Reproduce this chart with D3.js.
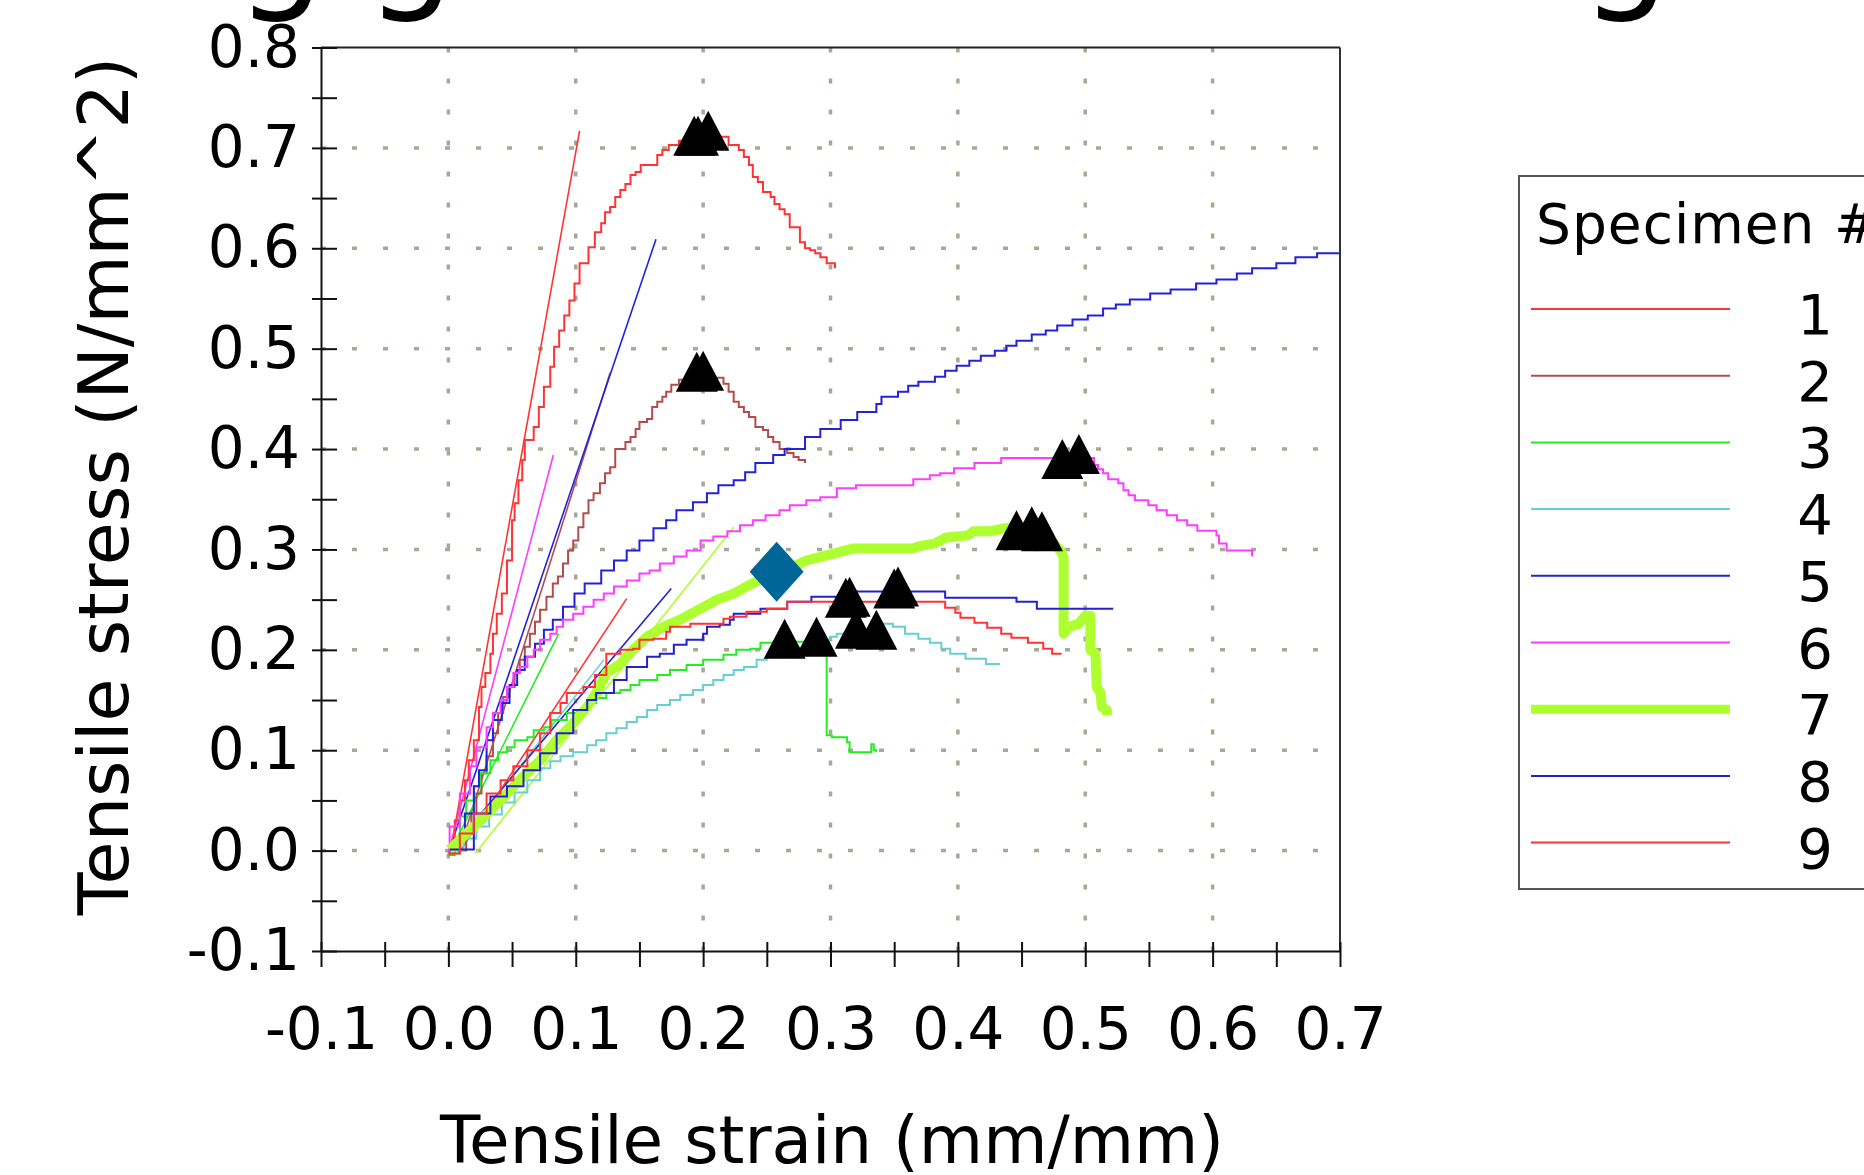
<!DOCTYPE html>
<html>
<head>
<meta charset="utf-8">
<script src="https://d3js.org/d3.v7.min.js"></script>
<style>
    body { margin: 0; padding: 0; background: #ffffff; }
    svg { display: block; font-family: 'DejaVu Sans', Verdana, sans-serif; }
</style>
</head>
<body>
<svg id="chart" width="1864" height="1175"></svg>
<script>
    // axis ticks (every 0.05, labels on every 0.1)
    const xTicks = [-0.1,-0.05,0,0.05,0.1,0.15,0.2,0.25,0.3,0.35,0.4,0.45,0.5,0.55,0.6,0.65,0.7];
    const xLabels = ["-0.1","0.0","0.1","0.2","0.3","0.4","0.5","0.6","0.7"];
    const yTicks = [-0.1,-0.05,0,0.05,0.1,0.15,0.2,0.25,0.3,0.35,0.4,0.45,0.5,0.55,0.6,0.65,0.7,0.75,0.8];
    const yLabels = ["-0.1","0.0","0.1","0.2","0.3","0.4","0.5","0.6","0.7","0.8"];
    const gridX = [0,0.1,0.2,0.3,0.4,0.5,0.6];
    const gridY = [0,0.1,0.2,0.3,0.4,0.5,0.6,0.7];

    const specimenNames = ["1","2","3","4","5","6","7","8","9"];
    const specimenColors = ["#ff3333","#b34d4d","#22ee22","#66d0d0","#2222dd","#ff3cff","#adff2f","#2222cc","#ff3333"];

    // stress-strain curves, [strain, stress]
    const spec1 = [[0.001,-0.004],[0.005,0.030],[0.009,0.050],[0.013,0.070],[0.016,0.090],[0.020,0.110],[0.024,0.143],[0.026,0.163],[0.029,0.177],[0.033,0.196],[0.035,0.216],[0.038,0.236],[0.042,0.256],[0.046,0.289],[0.050,0.329],[0.052,0.346],[0.055,0.369],[0.058,0.389],[0.060,0.409],[0.067,0.422],[0.071,0.442],[0.075,0.462],[0.080,0.482],[0.083,0.502],[0.087,0.518],[0.091,0.533],[0.095,0.548],[0.099,0.565],[0.103,0.585],[0.110,0.601],[0.115,0.616],[0.120,0.625],[0.123,0.636],[0.127,0.641],[0.131,0.651],[0.135,0.658],[0.139,0.664],[0.143,0.673],[0.147,0.676],[0.151,0.683],[0.160,0.683],[0.164,0.693],[0.168,0.698],[0.173,0.703],[0.181,0.707],[0.190,0.707],[0.196,0.711],[0.215,0.711],[0.220,0.703],[0.228,0.698],[0.232,0.691],[0.236,0.683],[0.239,0.671],[0.243,0.666],[0.247,0.656],[0.253,0.651],[0.256,0.644],[0.260,0.639],[0.264,0.634],[0.268,0.628],[0.268,0.621],[0.272,0.621],[0.276,0.615],[0.276,0.606],[0.280,0.600],[0.284,0.598],[0.288,0.595],[0.292,0.591],[0.297,0.585],[0.3035,0.580]];
    const spec2 = [[0.008,0.000],[0.014,0.017],[0.018,0.037],[0.022,0.057],[0.026,0.077],[0.030,0.094],[0.035,0.117],[0.039,0.137],[0.043,0.153],[0.048,0.163],[0.052,0.177],[0.056,0.190],[0.060,0.203],[0.064,0.216],[0.068,0.228],[0.072,0.240],[0.077,0.253],[0.082,0.266],[0.086,0.273],[0.090,0.286],[0.094,0.299],[0.098,0.309],[0.102,0.322],[0.106,0.336],[0.110,0.349],[0.114,0.356],[0.119,0.366],[0.123,0.376],[0.127,0.382],[0.131,0.400],[0.139,0.407],[0.143,0.412],[0.147,0.420],[0.150,0.427],[0.156,0.430],[0.160,0.442],[0.164,0.447],[0.168,0.452],[0.171,0.457],[0.175,0.464],[0.181,0.469],[0.187,0.471],[0.210,0.471],[0.216,0.465],[0.220,0.457],[0.224,0.447],[0.228,0.442],[0.232,0.437],[0.236,0.432],[0.241,0.422],[0.247,0.419],[0.251,0.412],[0.255,0.407],[0.260,0.400],[0.266,0.396],[0.271,0.392],[0.275,0.389],[0.280,0.386]];
    const spec3 = [[0.001,-0.003],[0.009,0.034],[0.014,0.050],[0.020,0.064],[0.025,0.077],[0.033,0.090],[0.039,0.098],[0.046,0.103],[0.052,0.110],[0.062,0.113],[0.067,0.120],[0.075,0.123],[0.081,0.130],[0.093,0.137],[0.101,0.140],[0.109,0.147],[0.116,0.152],[0.124,0.157],[0.135,0.160],[0.143,0.165],[0.150,0.170],[0.164,0.175],[0.174,0.180],[0.187,0.185],[0.200,0.190],[0.216,0.195],[0.226,0.200],[0.237,0.201],[0.245,0.207],[0.255,0.208],[0.290,0.208],[0.2965,0.205],[0.297,0.115],[0.301,0.113],[0.313,0.108],[0.315,0.098],[0.328,0.098],[0.332,0.106],[0.334,0.100],[0.336,0.098]];
    const spec4 = [[0.003,0.000],[0.012,0.012],[0.022,0.024],[0.032,0.036],[0.042,0.048],[0.052,0.058],[0.062,0.070],[0.072,0.082],[0.080,0.089],[0.088,0.094],[0.098,0.098],[0.109,0.105],[0.116,0.110],[0.124,0.117],[0.132,0.122],[0.140,0.128],[0.148,0.133],[0.156,0.140],[0.164,0.145],[0.174,0.150],[0.182,0.155],[0.192,0.160],[0.200,0.165],[0.208,0.170],[0.216,0.175],[0.224,0.180],[0.232,0.183],[0.242,0.190],[0.250,0.193],[0.255,0.196],[0.265,0.202],[0.280,0.207],[0.290,0.210],[0.300,0.213],[0.305,0.216],[0.320,0.220],[0.330,0.223],[0.339,0.226],[0.349,0.223],[0.3585,0.216],[0.369,0.211],[0.378,0.207],[0.387,0.201],[0.394,0.196],[0.406,0.191],[0.422,0.186],[0.433,0.186]];
    const spec5 = [[0.001,0.001],[0.005,0.010],[0.013,0.037],[0.020,0.064],[0.024,0.080],[0.030,0.110],[0.035,0.130],[0.042,0.147],[0.048,0.165],[0.054,0.180],[0.060,0.193],[0.068,0.206],[0.075,0.220],[0.082,0.230],[0.090,0.243],[0.099,0.256],[0.107,0.266],[0.120,0.279],[0.130,0.289],[0.140,0.299],[0.150,0.309],[0.161,0.321],[0.171,0.329],[0.179,0.339],[0.192,0.347],[0.203,0.356],[0.212,0.364],[0.224,0.369],[0.233,0.377],[0.241,0.386],[0.255,0.394],[0.264,0.400],[0.280,0.412],[0.292,0.420],[0.308,0.429],[0.321,0.437],[0.336,0.445],[0.340,0.452],[0.353,0.457],[0.361,0.463],[0.369,0.467],[0.382,0.472],[0.390,0.478],[0.399,0.483],[0.409,0.488],[0.418,0.493],[0.429,0.498],[0.438,0.503],[0.446,0.508],[0.458,0.514],[0.469,0.518],[0.478,0.523],[0.490,0.529],[0.502,0.533],[0.514,0.540],[0.524,0.544],[0.535,0.549],[0.551,0.555],[0.567,0.559],[0.587,0.565],[0.603,0.569],[0.619,0.575],[0.631,0.580],[0.650,0.585],[0.665,0.591],[0.682,0.595],[0.700,0.595]];
    const spec6 = [[0.000,0.000],[0.001,0.024],[0.009,0.057],[0.017,0.084],[0.022,0.103],[0.030,0.123],[0.035,0.137],[0.041,0.150],[0.046,0.163],[0.051,0.177],[0.056,0.183],[0.062,0.193],[0.067,0.200],[0.072,0.210],[0.080,0.216],[0.085,0.223],[0.090,0.230],[0.098,0.236],[0.106,0.243],[0.114,0.250],[0.122,0.256],[0.130,0.263],[0.140,0.269],[0.150,0.276],[0.158,0.279],[0.166,0.286],[0.177,0.293],[0.187,0.299],[0.198,0.309],[0.208,0.313],[0.219,0.318],[0.229,0.324],[0.239,0.329],[0.249,0.334],[0.260,0.339],[0.268,0.344],[0.281,0.349],[0.292,0.352],[0.305,0.361],[0.320,0.364],[0.365,0.370],[0.378,0.374],[0.386,0.376],[0.397,0.381],[0.413,0.386],[0.434,0.391],[0.504,0.391],[0.507,0.384],[0.510,0.380],[0.514,0.376],[0.518,0.370],[0.526,0.366],[0.530,0.359],[0.534,0.354],[0.539,0.349],[0.5495,0.344],[0.556,0.339],[0.564,0.334],[0.572,0.329],[0.580,0.324],[0.588,0.3185],[0.603,0.314],[0.605,0.306],[0.611,0.299],[0.623,0.299],[0.631,0.293]];
    const spec7 = [[0.001,0.001],[0.020,0.024],[0.033,0.040],[0.046,0.057],[0.059,0.074],[0.072,0.090],[0.085,0.110],[0.098,0.127],[0.109,0.143],[0.116,0.157],[0.124,0.177],[0.135,0.186],[0.145,0.200],[0.156,0.213],[0.169,0.223],[0.182,0.230],[0.198,0.241],[0.211,0.250],[0.224,0.256],[0.234,0.263],[0.243,0.269],[0.258,0.278],[0.271,0.283],[0.281,0.289],[0.297,0.294],[0.318,0.301],[0.339,0.301],[0.365,0.301],[0.369,0.303],[0.382,0.306],[0.391,0.312],[0.408,0.314],[0.412,0.318],[0.425,0.318],[0.436,0.321],[0.458,0.322],[0.476,0.305],[0.481,0.298],[0.483,0.292],[0.483,0.216],[0.487,0.223],[0.495,0.226],[0.500,0.234],[0.504,0.234],[0.504,0.200],[0.508,0.196],[0.509,0.163],[0.512,0.157],[0.513,0.143],[0.517,0.140],[0.517,0.135]];
    const spec8 = [[0.001,0.001],[0.020,0.037],[0.033,0.054],[0.046,0.064],[0.059,0.080],[0.072,0.097],[0.085,0.117],[0.098,0.140],[0.109,0.150],[0.116,0.157],[0.130,0.170],[0.140,0.177],[0.140,0.183],[0.150,0.183],[0.156,0.193],[0.166,0.196],[0.177,0.205],[0.187,0.210],[0.200,0.216],[0.203,0.223],[0.213,0.225],[0.221,0.230],[0.224,0.236],[0.234,0.236],[0.245,0.241],[0.266,0.243],[0.266,0.248],[0.284,0.248],[0.285,0.253],[0.300,0.253],[0.318,0.258],[0.390,0.252],[0.446,0.248],[0.462,0.241],[0.522,0.241]];
    const spec9 = [[0.000,-0.003],[0.009,0.017],[0.020,0.037],[0.030,0.057],[0.041,0.070],[0.051,0.084],[0.062,0.100],[0.072,0.117],[0.080,0.137],[0.088,0.147],[0.093,0.157],[0.106,0.163],[0.115,0.175],[0.124,0.196],[0.135,0.200],[0.145,0.201],[0.150,0.210],[0.161,0.211],[0.171,0.218],[0.174,0.223],[0.187,0.223],[0.190,0.226],[0.216,0.231],[0.221,0.233],[0.234,0.238],[0.250,0.241],[0.266,0.248],[0.300,0.248],[0.339,0.250],[0.365,0.248],[0.390,0.242],[0.398,0.237],[0.402,0.232],[0.413,0.227],[0.423,0.222],[0.434,0.216],[0.442,0.212],[0.455,0.207],[0.467,0.201],[0.474,0.196],[0.4815,0.196]];
    const curves = [spec1, spec2, spec3, spec4, spec5, spec6, spec7, spec8, spec9];

    // modulus (slope) lines per specimen, [start, end]
    const modulusLines = [
        [[0.001,-0.005],[0.103,0.717]],
        [[0.008,-0.002],[0.127,0.476]],
        [[0.000,-0.005],[0.0865,0.216]],
        [[0.003,-0.002],[0.122,0.190]],
        [[0.000,-0.002],[0.163,0.609]],
        [[0.000,-0.002],[0.0824,0.394]],
        [[0.021,-0.003],[0.224,0.322]],
        [[0.001,0.000],[0.175,0.261]],
        [[0.008,-0.003],[0.140,0.251]]
    ];

    // break markers: [specimen index, strain, stress]
    const breakPoints = [
        [0,0.193,0.712],[0,0.196,0.712],[0,0.204,0.717],
        [1,0.195,0.477],[1,0.200,0.478],
        [2,0.264,0.211],[2,0.289,0.213],
        [3,0.320,0.221],[3,0.336,0.220],
        [5,0.482,0.390],[5,0.495,0.395],
        [6,0.446,0.319],[6,0.458,0.323],[6,0.466,0.318],
        [7,0.350,0.261],[7,0.353,0.263],
        [8,0.312,0.252],[8,0.315,0.253]
    ];
    const yieldPoint = [0.2577, 0.2777];

    const svg = d3.select("#chart");
    svg.append("rect").attr("width", 1864).attr("height", 1175).attr("fill", "#ffffff");

    const plotLeft = 321, plotRight = 1340, plotTop = 47.5, plotBottom = 951;
    const x = d3.scaleLinear().domain([-0.1, 0.7]).range([plotLeft, plotRight]);
    const y = d3.scaleLinear().domain([-0.1, 0.8]).range([plotBottom, plotTop]);

    // clipped big title: only the descenders show
    svg.append("text")
        .attr("y", -7)
        .style("font-size", "141px")
        .style("fill", "#000")
        .selectAll("tspan")
        .data([236, 366, 1581])
        .enter().append("tspan")
        .attr("x", d => d)
        .text("g");

    // dotted grid
    let grid = svg.append("g");
    grid.selectAll(".gx").data(gridX).enter().append("line")
        .attr("x1", d => x(d)).attr("x2", d => x(d))
        .attr("y1", plotTop).attr("y2", plotBottom)
        .attr("stroke", "#aaa698").attr("stroke-width", 3.5)
        .attr("stroke-dasharray", "5,26");
    grid.selectAll(".gy").data(gridY).enter().append("line")
        .attr("x1", plotLeft).attr("x2", plotRight)
        .attr("y1", d => y(d)).attr("y2", d => y(d))
        .attr("stroke", "#aaa698").attr("stroke-width", 3.5)
        .attr("stroke-dasharray", "5,26");

    // frame
    svg.append("line").attr("x1", plotLeft).attr("x2", plotRight).attr("y1", plotTop).attr("y2", plotTop)
        .attr("stroke", "#222").attr("stroke-width", 2);
    svg.append("line").attr("x1", plotRight).attr("x2", plotRight).attr("y1", plotTop).attr("y2", plotBottom)
        .attr("stroke", "#333").attr("stroke-width", 2);

    // axes
    let xAxis = svg.append("g")
        .attr("transform", "translate(0," + plotBottom + ")")
        .call(d3.axisBottom(x).tickValues(xTicks).tickSize(16).tickSizeOuter(0).tickPadding(41)
            .tickFormat(function(d, i) { return i % 2 == 0 ? xLabels[i / 2] : ""; }));
    xAxis.selectAll(".tick line").attr("y1", -9).attr("stroke", "#111").attr("stroke-width", 2);
    xAxis.select(".domain").attr("stroke", "#111").attr("stroke-width", 2);
    xAxis.selectAll("text").style("font-size", "58px").style("font-family", "'DejaVu Sans', Verdana, sans-serif").attr("fill", "#000");

    let yAxis = svg.append("g")
        .attr("transform", "translate(" + plotLeft + ",0)")
        .call(d3.axisLeft(y).tickValues(yTicks).tickSize(9).tickSizeOuter(0).tickPadding(12)
            .tickFormat(function(d, i) { return i % 2 == 0 ? yLabels[i / 2] : ""; }));
    yAxis.selectAll(".tick line").attr("x1", 16).attr("stroke", "#111").attr("stroke-width", 2);
    yAxis.select(".domain").attr("stroke", "#111").attr("stroke-width", 2);
    yAxis.selectAll("text").style("font-size", "58px").style("font-family", "'DejaVu Sans', Verdana, sans-serif").attr("fill", "#000");

    // axis titles
    svg.append("text")
        .attr("x", 832).attr("y", 1163)
        .attr("text-anchor", "middle")
        .style("font-size", "66px")
        .text("Tensile strain (mm/mm)");
    svg.append("text")
        .attr("transform", "translate(128,486) rotate(-90)")
        .attr("text-anchor", "middle")
        .style("font-size", "70px")
        .text("Tensile stress (N/mm^2)");

    // modulus lines
    let straight = d3.line().x(d => x(d[0])).y(d => y(d[1]));
    svg.append("g").selectAll("path")
        .data(modulusLines).enter().append("path")
        .attr("d", straight)
        .attr("fill", "none")
        .attr("stroke", (d, i) => specimenColors[i])
        .attr("stroke-width", 1.6);

    // specimen curves
    let stepLine = d3.line().x(d => x(d[0])).y(d => y(d[1])).curve(d3.curveStepAfter);
    let smoothLine = d3.line().x(d => x(d[0])).y(d => y(d[1]));
    svg.append("g").selectAll("path")
        .data(curves).enter().append("path")
        .attr("d", (d, i) => i == 6 ? smoothLine(d) : stepLine(d))
        .attr("fill", "none")
        .attr("stroke", (d, i) => specimenColors[i])
        .attr("stroke-width", (d, i) => i == 6 ? 10 : 2)
        .attr("stroke-linejoin", (d, i) => i == 6 ? "round" : "miter");

    // break triangles
    svg.append("g").selectAll("path")
        .data(breakPoints).enter().append("path")
        .attr("transform", d => "translate(" + x(d[1]) + "," + y(d[2]) + ")")
        .attr("d", "M0,-20L21,20L-21,20Z")
        .attr("fill", "#000");

    // yield diamond
    svg.append("path")
        .attr("transform", "translate(" + x(yieldPoint[0]) + "," + y(yieldPoint[1]) + ")")
        .attr("d", "M0,-30L27,0L0,30L-27,0Z")
        .attr("fill", "#006699");

    // legend
    let legend = svg.append("g");
    legend.append("rect")
        .attr("x", 1519).attr("y", 176).attr("width", 420).attr("height", 713)
        .attr("fill", "#fff").attr("stroke", "#555").attr("stroke-width", 2);
    legend.append("text")
        .attr("x", 1536).attr("y", 243)
        .style("font-size", "55px")
        .style("letter-spacing", "1px")
        .text("Specimen #");
    let rows = legend.selectAll(".row")
        .data(specimenNames).enter().append("g")
        .attr("transform", (d, i) => "translate(0," + (309 + i * 66.7) + ")");
    rows.append("line")
        .attr("x1", 1531).attr("x2", 1730)
        .attr("stroke", (d, i) => specimenColors[i])
        .attr("stroke-width", (d, i) => i == 6 ? 9 : 2);
    rows.append("text")
        .attr("x", 1815).attr("y", 25)
        .attr("text-anchor", "middle")
        .style("font-size", "56px")
        .text(d => d);
</script>
</body>
</html>
